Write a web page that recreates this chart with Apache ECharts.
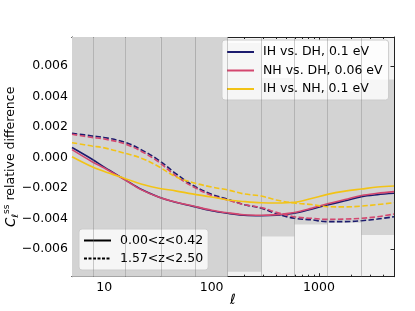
<!DOCTYPE html>
<html><head><meta charset="utf-8">
<script src="https://cdn.jsdelivr.net/npm/echarts@6/dist/echarts.min.js"></script>
<style>html,body{margin:0;padding:0;background:#fff}#c{width:415px;height:311px}</style>
</head><body><div id="c"></div>
<script>
// multipole sample points (ell)
const ells = [5, 7.7, 10, 15.7, 22, 32, 46, 66, 100, 141, 200, 290, 400, 590, 850, 1200, 1750, 2490, 3500, 5000];
// 0.00<z<0.42 (solid)
const ihDhLow = [0.00064, -0.00013, -0.00065, -0.00148, -0.0021, -0.0026, -0.00295, -0.0032, -0.0035, -0.00367, -0.0038, -0.00383, -0.0038, -0.00367, -0.0034, -0.00313, -0.00285, -0.00258, -0.00245, -0.00236];
const nhDhLow = [0.0005, -0.00029, -0.0007, -0.0015, -0.00212, -0.0026, -0.00293, -0.00318, -0.00347, -0.00364, -0.00377, -0.0038, -0.00376, -0.00362, -0.00335, -0.00305, -0.00277, -0.0025, -0.00236, -0.00225];
const ihNhLow = [0.00004, -0.00062, -0.00093, -0.0014, -0.00175, -0.00203, -0.0022, -0.0024, -0.0026, -0.0028, -0.0029, -0.00298, -0.003, -0.00295, -0.0027, -0.00243, -0.00222, -0.00208, -0.00195, -0.00188];
// 1.57<z<2.50 (dashed)
const ihDhHigh = [0.00158, 0.0014, 0.0013, 0.00098, 0.0005, -0.00018, -0.00105, -0.00182, -0.00243, -0.00275, -0.0031, -0.00334, -0.0037, -0.004, -0.0041, -0.00422, -0.00422, -0.00416, -0.00405, -0.0039];
const nhDhHigh = [0.00151, 0.0013, 0.0012, 0.00087, 0.0004, -0.0003, -0.0012, -0.0019, -0.0025, -0.0028, -0.0031, -0.0033, -0.0036, -0.0039, -0.004, -0.00407, -0.00405, -0.004, -0.0039, -0.00372];
const ihNhHigh = [0.00096, 0.00074, 0.00062, 0.00026, -0.00005, -0.0006, -0.00127, -0.00165, -0.00195, -0.00214, -0.0024, -0.00254, -0.0028, -0.003, -0.0031, -0.00324, -0.00325, -0.0032, -0.0031, -0.00298];
// ell bins and error band half-widths
const binEdges = [5, 7.9, 15.7, 33.6, 70, 141, 290, 589, 1205, 2490, 5000];
const binSigma = [0.02, 0.02, 0.02, 0.015, 0.01, 0.0075, 0.0052, 0.0044, 0.0043, 0.0051];
// ticks
const xMajor = [10, 100, 1000];
const xMinor = [6, 7, 8, 9, 20, 30, 40, 50, 60, 70, 80, 90, 200, 300, 400, 500, 600, 700, 800, 900, 2000, 3000, 4000];
const yTicks = [-0.006, -0.004, -0.002, 0, 0.002, 0.004, 0.006];
const names = ['IH vs. DH, 0.1 eV', 'NH vs. DH, 0.06 eV', 'IH vs. NH, 0.1 eV'];
const zNames = ['0.00<z<0.42', '1.57<z<2.50'];

const FONT = 'DejaVu Sans';
const colors = ['#1c1c6e', '#d4476f', '#f2c316'];
const pair = (arr) => ells.map((e, i) => [e, arr[i]]);

function xAx(pos, ticks, len, labels) {
  return {
    type: 'log', logBase: 10, min: 5, max: 5000, position: pos,
    axisLine: { show: true, onZero: false, lineStyle: { color: '#222', width: 1 } },
    axisTick: { show: true, inside: true, length: len, customValues: ticks, lineStyle: { color: '#222', width: 1 } },
    axisLabel: labels ? { show: true, customValues: xMajor, margin: 5, color: '#000', fontFamily: FONT, fontSize: 12.5,
      formatter: v => String(Math.round(v)) } : { show: false },
    splitLine: { show: false }, minorTick: { show: false }
  };
}
function yAx(pos, labels) {
  return {
    type: 'value', min: -0.00783, max: 0.00789, position: pos,
    axisLine: { show: true, onZero: false, lineStyle: { color: '#222', width: 1 } },
    axisTick: { show: true, inside: true, length: 3.5, customValues: yTicks, lineStyle: { color: '#222', width: 1 } },
    axisLabel: labels ? { show: true, customValues: yTicks, margin: 4, color: '#000', fontFamily: FONT, fontSize: 12.5,
      formatter: v => v.toFixed(3).replace('-', '\u2212') } : { show: false },
    splitLine: { show: false }
  };
}
const xAxes = [xAx('bottom', xMajor, 3.5, true), xAx('bottom', xMinor, 2, false), xAx('top', xMajor, 3.5, false), xAx('top', xMinor, 2, false)];
xAxes[0].name = 'ℓ';
xAxes[0].nameLocation = 'middle';
xAxes[0].nameGap = 17;
xAxes[0].nameMoveOverlap = false;
xAxes[0].nameTextStyle = { fontFamily: FONT, fontSize: 14, fontStyle: 'italic', color: '#000' };
const yAxes = [yAx('left', true), yAx('right', false)];
yAxes[0].name = '{c|C}{sub|ℓ}{sup|ss}{t| relative difference}';
yAxes[0].nameLocation = 'middle';
yAxes[0].nameGap = 52;
yAxes[0].nameMoveOverlap = false;
yAxes[0].nameTextStyle = { fontFamily: FONT, fontSize: 12.5, color: '#000', rich: {
  c: { fontFamily: FONT, fontSize: 13.5, fontStyle: 'italic', color: '#000' },
  sub: { fontFamily: FONT, fontSize: 9, fontStyle: 'italic', color: '#000', padding: [9, 0, 0, 0] },
  sup: { fontFamily: FONT, fontSize: 9, color: '#000', padding: [0, 0, 8, 0] },
  t: { fontFamily: FONT, fontSize: 12.5, color: '#000' }
}};

const series = [{
  type: 'custom', xAxisIndex: 0, yAxisIndex: 0, z: 1, silent: true,
  data: binSigma.map((s, i) => [binEdges[i], binEdges[i + 1], s]),
  encode: { x: [0, 1], y: 2 },
  renderItem: function (params, api) {
    const lo = api.value(0), hi = api.value(1), s = api.value(2);
    const p1 = api.coord([lo, s]), p2 = api.coord([hi, -s]);
    const cs = params.coordSys;
    const r = echarts.graphic.clipRectByRect(
      { x: p1[0], y: p1[1], width: p2[0] - p1[0], height: p2[1] - p1[1] },
      { x: cs.x, y: cs.y, width: cs.width, height: cs.height });
    return r ? { type: 'rect', shape: r, style: { fill: '#d3d3d3' } } : null;
  },
  markLine: { silent: true, symbol: 'none', label: { show: false },
    lineStyle: { color: 'rgba(110,110,110,0.35)', width: 1, type: 'solid' },
    data: binEdges.slice(1, -1).map(v => ({ xAxis: v })) }
}];
const lowSets = [ihDhLow, nhDhLow, ihNhLow];
const highSets = [ihDhHigh, nhDhHigh, ihNhHigh];
for (let k = 0; k < 3; k++) {
  series.push({ name: names[k], type: 'line', data: pair(lowSets[k]), smooth: 0.35, symbol: 'none', z: 3 + k,
    lineStyle: { color: colors[k], width: 1.6, type: 'solid' }, itemStyle: { color: colors[k] } });
  series.push({ name: names[k], type: 'line', data: pair(highSets[k]), smooth: 0.35, symbol: 'none', z: 3 + k,
    lineStyle: { color: colors[k], width: 1.6, type: [5.5, 2.4] }, itemStyle: { color: colors[k] } });
}
series.push({ name: zNames[0], type: 'line', data: [], symbol: 'none', lineStyle: { color: '#000', width: 1.1, type: 'solid' }, itemStyle: { color: '#000' } });
series.push({ name: zNames[1], type: 'line', data: [], symbol: 'none', lineStyle: { color: '#000', width: 1.1, type: [3, 1.5] }, itemStyle: { color: '#000' } });

const legendBase = {
  orient: 'vertical', itemWidth: 27, itemHeight: 3, itemGap: 4.5, selectedMode: false,
  itemStyle: { opacity: 0 },
  backgroundColor: 'rgba(255,255,255,0.8)', borderColor: '#cccccc', borderWidth: 1, borderRadius: 3,
  textStyle: { fontFamily: FONT, fontSize: 12.5, color: '#000', lineHeight: 14, padding: [0, 0, 0, 4] }
};
const chart = echarts.init(document.getElementById('c'), null, { renderer: 'canvas' });
chart.setOption({
  animation: false,
  grid: { left: 72, right: 21, top: 37, bottom: 34.3, show: true, backgroundColor: '#f2f2f2', borderWidth: 0,
    containLabel: false, outerBoundsMode: 'none' },
  xAxis: xAxes,
  yAxis: yAxes,
  legend: [
    Object.assign({}, legendBase, { data: names, left: 222, top: 40, padding: [5, 6, 4, 4] }),
    Object.assign({}, legendBase, { data: zNames, left: 79, top: 229, itemGap: 4, padding: [4.5, 5, 4.5, 4] })
  ],
  series: series
});
</script></body></html>
